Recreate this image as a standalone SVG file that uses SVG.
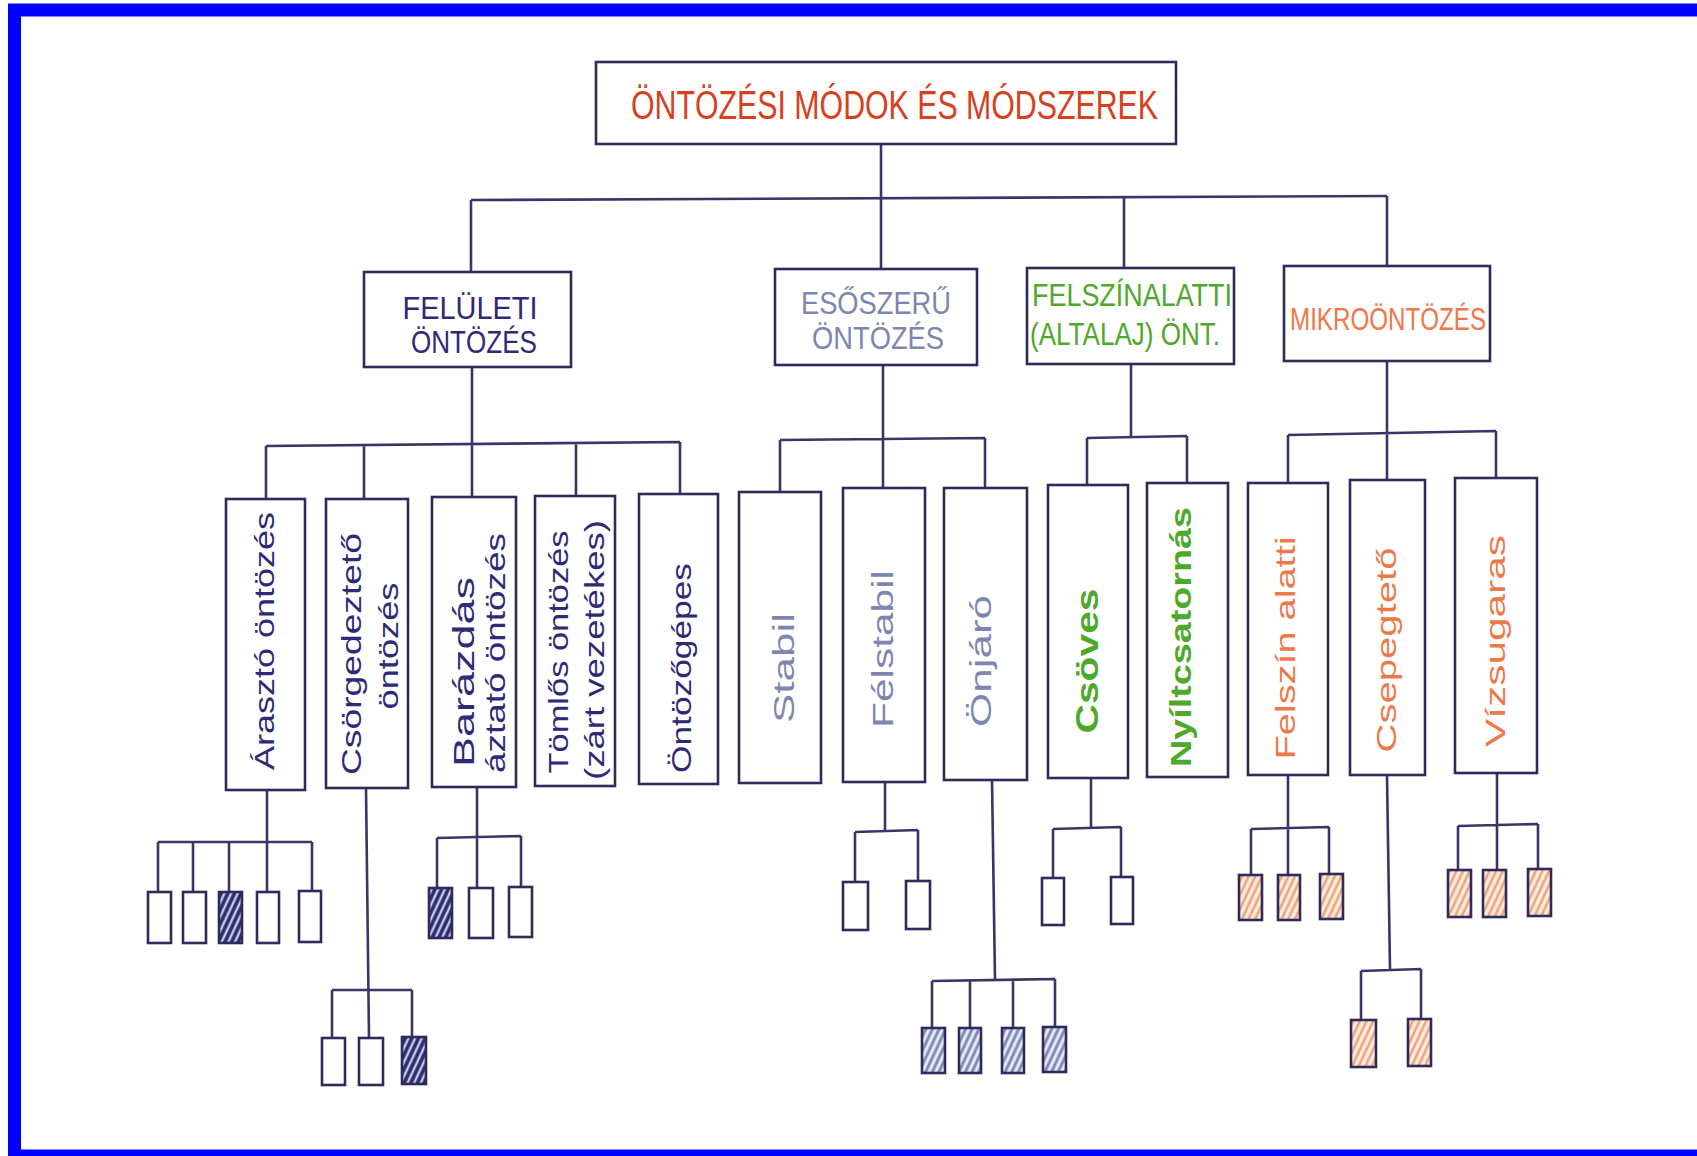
<svg xmlns="http://www.w3.org/2000/svg" width="1697" height="1156" viewBox="0 0 1697 1156">
<style>
.bx{fill:#fff;stroke:#2e2a5c;stroke-width:2.6}
.ln{fill:none;stroke:#3a3468;stroke-width:2.6}
.t{font-family:"Liberation Sans",Arial,sans-serif}
.navy{fill:#2e2a78}
.grey{fill:#7c86ae}
.green{fill:#4ea82c}
.orange{fill:#ee7848}
.red{fill:#d8401c}
.hn{fill:url(#hN);stroke:#2e2a5c;stroke-width:2.6}
.hg{fill:url(#hG);stroke:#2e2a5c;stroke-width:2.6}
.ho{fill:url(#hO);stroke:#2e2a5c;stroke-width:2.6}
</style>
<defs>
<pattern id="hN" width="6" height="6" patternUnits="userSpaceOnUse" patternTransform="rotate(25)"><rect width="6" height="6" fill="#c8c8e0"/><line x1="2" y1="0" x2="2" y2="6" stroke="#2a2870" stroke-width="3.5"/></pattern>
<pattern id="hG" width="6" height="6" patternUnits="userSpaceOnUse" patternTransform="rotate(25)"><rect width="6" height="6" fill="#eceef6"/><line x1="2" y1="0" x2="2" y2="6" stroke="#7e86b8" stroke-width="3"/></pattern>
<pattern id="hO" width="6" height="6" patternUnits="userSpaceOnUse" patternTransform="rotate(25)"><rect width="6" height="6" fill="#fdeee2"/><line x1="2" y1="0" x2="2" y2="6" stroke="#f0a27c" stroke-width="2.6"/></pattern>
</defs>
<rect x="0" y="0" width="1697" height="1156" fill="#fff"/>
<rect x="14.5" y="10" width="1700" height="1146" fill="none" stroke="#0000ff" stroke-width="13"/>

<g id="connectors" class="ln">
<path d="M881,144 V198"/>
<path d="M471,200 L1387,196"/>
<path d="M471,200 V272 M881,198 V269 M1124,197 V268 M1387,196 V266"/>
<path d="M472,367 V444 M266,446 L680,442 M266,446 V499 M364,445 V499 M472,444 V497 M576,443 V497 M680,442 V495"/>
<path d="M883,365 V439 M780,440 L985,438 M780,440 V492 M883,439 V488 M985,438 V488"/>
<path d="M1131,364 V437 M1087,438 L1187,436 M1087,438 V485 M1187,436 V483"/>
<path d="M1387,361 V433 M1288,435 L1496,431 M1288,435 V483 M1387,433 V480 M1496,431 V478"/>
<path d="M267,790 V892 M158,842 H312 M158,842 V892 M193,842 V892 M229,842 V892 M312,842 V891"/>
<path d="M366,788 L369,1038 M332,990 H412 M332,990 V1038 M412,990 V1037"/>
<path d="M477,786 V888 M437,838 L521,836 M437,838 V888 M521,836 V887"/>
<path d="M885,782 V831 M855,832 L918,830 M855,832 V882 M918,830 V881"/>
<path d="M992,780 L995,980 M932,981 L1055,979 M932,981 V1028 M970,980 V1028 M1013,980 V1028 M1055,979 V1027"/>
<path d="M1091,778 V828 M1053,829 L1121,827 M1053,829 V878 M1121,827 V877"/>
<path d="M1288,775 V875 M1251,829 L1329,827 M1251,829 V875 M1329,827 V874"/>
<path d="M1387,775 L1390,970 M1361,971 L1421,969 M1361,971 V1020 M1421,969 V1019"/>
<path d="M1497,773 V870 M1458,826 L1538,824 M1458,826 V870 M1538,824 V869"/>
</g>

<g id="title"><rect class="bx" x="596" y="62" width="580" height="82"/>
<text class="t red" x="631" y="119" font-size="40" textLength="527" lengthAdjust="spacingAndGlyphs">ÖNTÖZÉSI MÓDOK ÉS MÓDSZEREK</text></g>

<g id="feluleti"><rect class="bx" x="364" y="272" width="207" height="95"/>
<text class="t navy" font-size="32" text-anchor="middle"><tspan x="470" y="319" textLength="135" lengthAdjust="spacingAndGlyphs">FELÜLETI</tspan><tspan x="474" y="353" textLength="126" lengthAdjust="spacingAndGlyphs">ÖNTÖZÉS</tspan></text></g>
<g id="esoszeru"><rect class="bx" x="775" y="269" width="202" height="96"/>
<text class="t grey" font-size="32" text-anchor="middle"><tspan x="876" y="314" textLength="150" lengthAdjust="spacingAndGlyphs">ESŐSZERŰ</tspan><tspan x="878" y="349" textLength="132" lengthAdjust="spacingAndGlyphs">ÖNTÖZÉS</tspan></text></g>
<g id="felszinalatti"><rect class="bx" x="1027" y="268" width="207" height="96"/>
<text class="t green" font-size="31" text-anchor="middle"><tspan x="1132" y="306" textLength="200" lengthAdjust="spacingAndGlyphs">FELSZÍNALATTI</tspan><tspan x="1125" y="345" textLength="190" lengthAdjust="spacingAndGlyphs">(ALTALAJ) ÖNT.</tspan></text></g>
<g id="mikro"><rect class="bx" x="1284" y="266" width="206" height="95"/>
<text class="t orange" x="1290" y="330" font-size="31" textLength="196" lengthAdjust="spacingAndGlyphs">MIKROÖNTÖZÉS</text></g>

<g id="arraszto"><rect class="bx" x="226" y="499" width="79" height="291"/>
<text class="t navy" font-size="28" text-anchor="middle" transform="translate(264,641) rotate(-90)" x="0" y="10" textLength="258" lengthAdjust="spacingAndGlyphs">Árasztó öntözés</text></g>
<g id="csorgedezteto"><rect class="bx" x="326" y="499" width="82" height="289"/>
<text class="t navy" font-size="28" text-anchor="middle" transform="translate(351,654) rotate(-90)" x="0" y="10" textLength="242" lengthAdjust="spacingAndGlyphs">Csörgedeztető</text>
<text class="t navy" font-size="28" text-anchor="middle" transform="translate(388,646) rotate(-90)" x="0" y="10" textLength="127" lengthAdjust="spacingAndGlyphs">öntözés</text></g>
<g id="barazdas"><rect class="bx" x="432" y="497" width="84" height="290"/>
<text class="t navy" font-size="30" text-anchor="middle" transform="translate(463,672) rotate(-90)" x="0" y="11" textLength="190" lengthAdjust="spacingAndGlyphs">Barázdás</text>
<text class="t navy" font-size="28" text-anchor="middle" transform="translate(495,653) rotate(-90)" x="0" y="10" textLength="240" lengthAdjust="spacingAndGlyphs">áztató öntözés</text></g>
<g id="tomlos"><rect class="bx" x="535" y="496" width="80" height="290"/>
<text class="t navy" font-size="28" text-anchor="middle" transform="translate(558,652) rotate(-90)" x="0" y="10" textLength="243" lengthAdjust="spacingAndGlyphs">Tömlős öntözés</text>
<text class="t navy" font-size="28" text-anchor="middle" transform="translate(594,650) rotate(-90)" x="0" y="10" textLength="260" lengthAdjust="spacingAndGlyphs">(zárt vezetékes)</text></g>
<g id="ontozogepes"><rect class="bx" x="639" y="494" width="79" height="290"/>
<text class="t navy" font-size="28" text-anchor="middle" transform="translate(681,668) rotate(-90)" x="0" y="10" textLength="210" lengthAdjust="spacingAndGlyphs">Öntözőgépes</text></g>
<g id="stabil"><rect class="bx" x="739" y="492" width="82" height="291"/>
<text class="t grey" font-size="30" text-anchor="middle" transform="translate(783,668) rotate(-90)" x="0" y="11" textLength="110" lengthAdjust="spacingAndGlyphs">Stabil</text></g>
<g id="felstabil"><rect class="bx" x="843" y="488" width="82" height="294"/>
<text class="t grey" font-size="30" text-anchor="middle" transform="translate(882,649) rotate(-90)" x="0" y="11" textLength="158" lengthAdjust="spacingAndGlyphs">Félstabil</text></g>
<g id="onjaro"><rect class="bx" x="944" y="488" width="83" height="292"/>
<text class="t grey" font-size="30" text-anchor="middle" transform="translate(980,661) rotate(-90)" x="0" y="11" textLength="132" lengthAdjust="spacingAndGlyphs">Önjáró</text></g>
<g id="csoves"><rect class="bx" x="1048" y="485" width="80" height="293"/>
<text class="t green" font-size="32" font-weight="bold" text-anchor="middle" transform="translate(1086,661) rotate(-90)" x="0" y="12" textLength="145" lengthAdjust="spacingAndGlyphs">Csöves</text></g>
<g id="nyiltcsatornas"><rect class="bx" x="1147" y="483" width="81" height="294"/>
<text class="t green" font-size="30" font-weight="bold" text-anchor="middle" transform="translate(1180,637) rotate(-90)" x="0" y="11" textLength="260" lengthAdjust="spacingAndGlyphs">Nyíltcsatornás</text></g>
<g id="felszinalatti2"><rect class="bx" x="1248" y="483" width="80" height="292"/>
<text class="t orange" font-size="28" text-anchor="middle" transform="translate(1285,648) rotate(-90)" x="0" y="10" textLength="223" lengthAdjust="spacingAndGlyphs">Felszín alatti</text></g>
<g id="csepegteto"><rect class="bx" x="1350" y="480" width="75" height="295"/>
<text class="t orange" font-size="28" text-anchor="middle" transform="translate(1386,650) rotate(-90)" x="0" y="10" textLength="205" lengthAdjust="spacingAndGlyphs">Csepegtető</text></g>
<g id="vizsugaras"><rect class="bx" x="1455" y="478" width="82" height="295"/>
<text class="t orange" font-size="28" text-anchor="middle" transform="translate(1495,641) rotate(-90)" x="0" y="10" textLength="212" lengthAdjust="spacingAndGlyphs">Vízsugaras</text></g>

<g id="arraszto-leaves">
<rect id="a1" class="bx" x="148" y="892" width="23" height="51"/>
<rect id="a2" class="bx" x="183" y="892" width="23" height="51"/>
<rect id="a3" class="hn" x="219" y="892" width="23" height="51"/>
<rect id="a4" class="bx" x="257" y="892" width="22" height="51"/>
<rect id="a5" class="bx" x="299" y="891" width="22" height="51"/>
</g>
<g id="csorged-leaves">
<rect id="c1" class="bx" x="322" y="1038" width="23" height="47"/>
<rect id="c2" class="bx" x="359" y="1038" width="24" height="47"/>
<rect id="c3" class="hn" x="402" y="1037" width="24" height="47"/>
</g>
<g id="barazdas-leaves">
<rect id="b1" class="hn" x="429" y="888" width="23" height="50"/>
<rect id="b2" class="bx" x="469" y="888" width="24" height="50"/>
<rect id="b3" class="bx" x="509" y="887" width="23" height="50"/>
</g>
<g id="felstabil-leaves">
<rect id="f1" class="bx" x="843" y="882" width="25" height="48"/>
<rect id="f2" class="bx" x="906" y="881" width="24" height="48"/>
</g>
<g id="onjaro-leaves">
<rect id="o1" class="hg" x="922" y="1028" width="23" height="45"/>
<rect id="o2" class="hg" x="959" y="1028" width="22" height="45"/>
<rect id="o3" class="hg" x="1002" y="1028" width="22" height="45"/>
<rect id="o4" class="hg" x="1043" y="1027" width="23" height="45"/>
</g>
<g id="csoves-leaves">
<rect id="s1" class="bx" x="1042" y="878" width="22" height="47"/>
<rect id="s2" class="bx" x="1111" y="877" width="22" height="47"/>
</g>
<g id="felszin-leaves">
<rect id="m1" class="ho" x="1239" y="875" width="23" height="45"/>
<rect id="m2" class="ho" x="1278" y="875" width="22" height="45"/>
<rect id="m3" class="ho" x="1320" y="874" width="23" height="45"/>
</g>
<g id="csepeg-leaves">
<rect id="p1" class="ho" x="1351" y="1020" width="25" height="47"/>
<rect id="p2" class="ho" x="1408" y="1019" width="23" height="47"/>
</g>
<g id="viz-leaves">
<rect id="v1" class="ho" x="1448" y="870" width="23" height="47"/>
<rect id="v2" class="ho" x="1483" y="870" width="23" height="47"/>
<rect id="v3" class="ho" x="1528" y="869" width="23" height="47"/>
</g>
</svg>
